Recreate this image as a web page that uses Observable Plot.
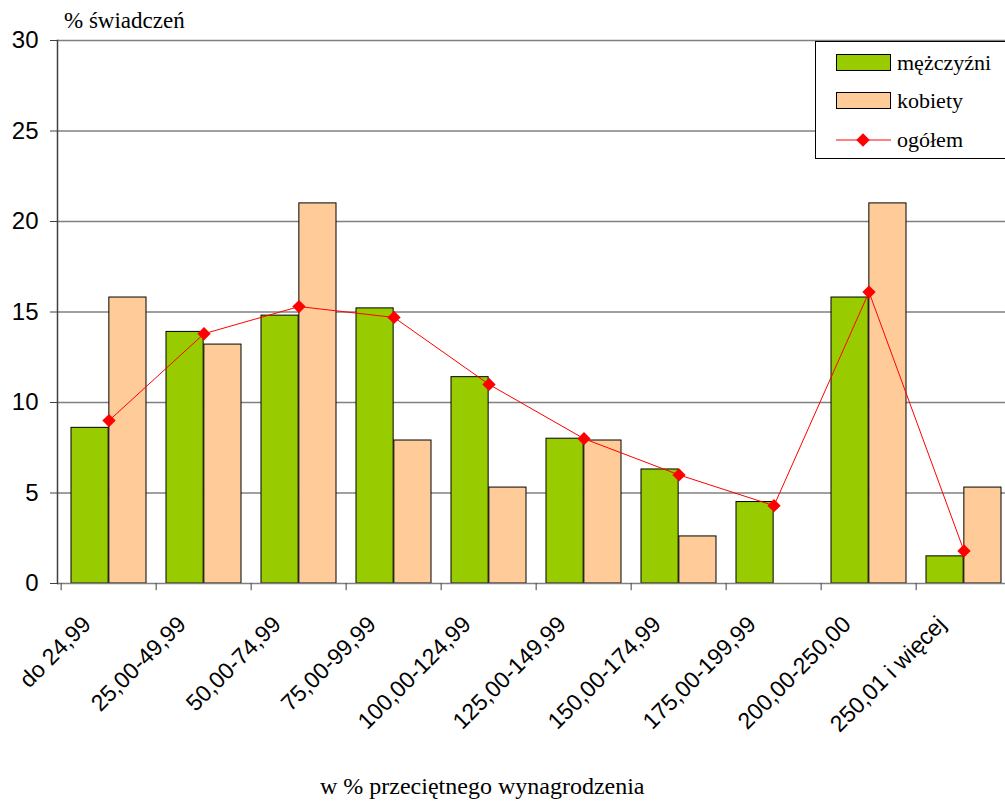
<!DOCTYPE html>
<html>
<head>
<meta charset="utf-8">
<script src="https://cdn.jsdelivr.net/npm/d3@7"></script>
<script src="https://cdn.jsdelivr.net/npm/@observablehq/plot@0.6"></script>
<style>
  html, body { margin: 0; padding: 0; background: #fff; overflow: hidden; }
  #wrap { position: relative; width: 1005px; height: 803px; overflow: hidden; }
  #chart svg { max-width: none !important; height: 803px !important; }
  .serif { font-family: "Liberation Serif", "Times New Roman", Times, serif; color: #000; position: absolute; white-space: nowrap; line-height: normal; }
  #legend { position: absolute; left: 815px; top: 41px; width: 220px; height: 116px; border: 1px solid #000; background: #fff; }
  .sw { position: absolute; left: 20px; width: 55px; height: 17px; border: 1px solid #000; box-sizing: border-box; }
  .lab { position: absolute; left: 81px; font-family: "Liberation Serif", "Times New Roman", Times, serif; font-size: 22px; line-height: 22px; white-space: nowrap; }
</style>
</head>
<body>
<div id="wrap">
  <div id="chart"></div>
  <div class="serif" style="left:64px; top:8px; font-size:23px;">% świadczeń</div>
  <div class="serif" style="left:320px; top:773px; font-size:24px;">w % przeciętnego wynagrodzenia</div>
  <div id="legend"></div>
</div>
<script>
const categories = ["do 24,99", "25,00-49,99", "50,00-74,99", "75,00-99,99", "100,00-124,99",
  "125,00-149,99", "150,00-174,99", "175,00-199,99", "200,00-250,00", "250,01 i więcej"];
const men   = [8.6, 13.9, 14.8, 15.2, 11.4, 8.0, 6.3, 4.5, 15.8, 1.5];
const women = [15.8, 13.2, 21.0, 7.9, 5.3, 7.9, 2.6, 0, 21.0, 5.3];
const total = [9.0, 13.8, 15.3, 14.7, 11.0, 8.0, 6.0, 4.3, 16.1, 1.8];
const yTicks = [0, 5, 10, 15, 20, 25, 30];
const seriesNames = ["mężczyźni", "kobiety", "ogółem"];
const colors = {men: "#99cc00", women: "#ffcc99", total: "#ff0000"};

const menData = categories.map((c, i) => ({cat: c, v: men[i]}));
const womenData = categories.map((c, i) => ({cat: c, v: women[i]})).filter(d => d.v > 0);
const totalData = categories.map((c, i) => ({cat: c, v: total[i]}));

const W = 1014, H = 803, ML = 57, MR = 0, MT = 40, MB = 220;
const band = (W - ML - MR) / categories.length;

const chart = Plot.plot({
  width: W, height: H,
  marginLeft: ML, marginRight: MR, marginTop: MT, marginBottom: MB,
  style: {fontFamily: "'Liberation Sans', Arial, sans-serif", fontSize: "24px", color: "#000", background: "#fff", maxWidth: "none"},
  x: {domain: categories, padding: 0, label: null},
  y: {domain: [0, 30], label: null},
  marks: [
    Plot.ruleY(yTicks.filter(d => d > 0), {stroke: "#808080", strokeWidth: 1.5}),
    Plot.barY(menData, {x: "cat", y: "v", fill: colors.men, stroke: "#000", strokeWidth: 1,
      insetLeft: 10, insetRight: band / 2}),
    Plot.barY(womenData, {x: "cat", y: "v", fill: colors.women, stroke: "#000", strokeWidth: 1,
      insetLeft: band / 2, insetRight: 10}),
    Plot.ruleY([0], {stroke: "#808080", strokeWidth: 1.5}),
    Plot.ruleX(categories, {x: d => d, dx: -band / 2, y1: 0, y2: -0.4, stroke: "#404040"}),
    Plot.frame({anchor: "left", stroke: "#404040", strokeWidth: 1.5}),
    Plot.axisY({ticks: yTicks, tickSize: 7, tickPadding: 12, stroke: "#404040", fontSize: 24, tickFormat: d => d}),
    Plot.axisX({tickSize: 0, tickRotate: -45, tickPadding: 37, dx: -22, fontSize: 23}),
    Plot.line(totalData, {x: "cat", y: "v", stroke: colors.total, strokeWidth: 1}),
    Plot.dot(totalData, {x: "cat", y: "v", symbol: "diamond2", r: 6, fill: colors.total, stroke: "none"})
  ]
});
chart.style.maxWidth = "none";
chart.style.height = H + "px";
document.getElementById("chart").appendChild(chart);

// legend
const legend = document.getElementById("legend");
const rows = [
  {name: seriesNames[0], type: "bar", color: colors.men, swTop: 12, labTop: 10},
  {name: seriesNames[1], type: "bar", color: colors.women, swTop: 50, labTop: 48},
  {name: seriesNames[2], type: "line", color: colors.total, swTop: 98, labTop: 87}
];
rows.forEach(r => {
  if (r.type === "bar") {
    const sw = document.createElement("div");
    sw.className = "sw";
    sw.style.background = r.color;
    sw.style.top = r.swTop + "px";
    legend.appendChild(sw);
  } else {
    const svg = d3.create("svg").attr("width", 80).attr("height", 30)
      .style("position", "absolute").style("left", "0px").style("top", (r.swTop - 15) + "px");
    svg.append("line").attr("x1", 20).attr("x2", 75).attr("y1", 15).attr("y2", 15)
      .attr("stroke", r.color).attr("stroke-width", 1);
    svg.append("path").attr("d", d3.symbol(d3.symbolDiamond2, 115)())
      .attr("transform", "translate(47,15)").attr("fill", r.color);
    legend.appendChild(svg.node());
  }
  const lab = document.createElement("div");
  lab.className = "lab";
  lab.textContent = r.name;
  lab.style.top = r.labTop + "px";
  legend.appendChild(lab);
});
</script>
</body>
</html>
